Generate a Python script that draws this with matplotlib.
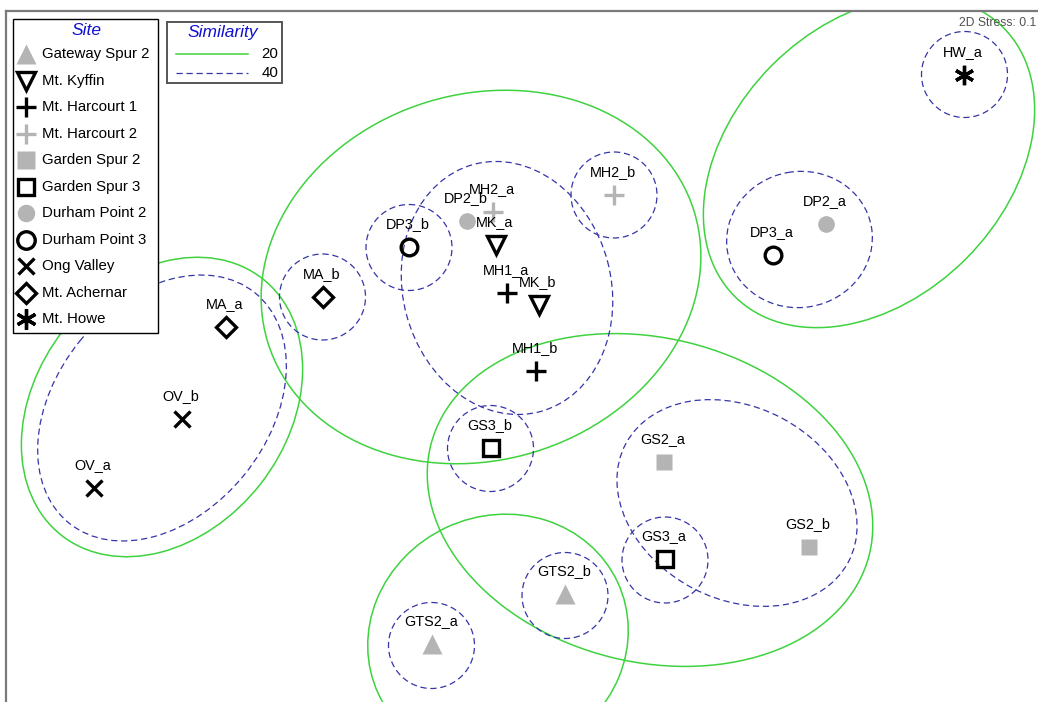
import matplotlib

matplotlib.use("Agg")
import matplotlib.pyplot as plt
from matplotlib.patches import Ellipse, Rectangle

plt.rcParams["font.family"] = ["Liberation Sans", "DejaVu Sans"]

W, H = 1038, 702
X0, Y0 = 6, 11  # frame corner

GREEN = "#3fd23f"
BLUE = "#3535a8"
GRAY = "#b4b4b4"
TITLE_BLUE = "#1010d0"

# site legend order and marker styles
SITES = [
    "Gateway Spur 2", "Mt. Kyffin", "Mt. Harcourt 1", "Mt. Harcourt 2",
    "Garden Spur 2", "Garden Spur 3", "Durham Point 2", "Durham Point 3",
    "Ong Valley", "Mt. Achernar", "Mt. Howe",
]
SITE_MARKERS = ["^", "v", "+", "+", "s", "s", "o", "o", "x", "D", (6, 2, 0)]
SITE_FILLED = [True, False, False, False, True, False, True, False, False, False, False]
SITE_COLORS = ["gray", "black", "black", "gray", "gray", "black", "gray", "black",
               "black", "black", "black"]
SITE_SIZES = [14, 13, 14, 14, 12, 11, 12, 12, 11, 10, 14]

# MDS ordination of samples (screen units)
SAMPLES = ["HW_a", "DP2_a", "DP3_a", "MH2_b", "DP2_b", "MH2_a", "MK_a", "DP3_b",
           "MH1_a", "MK_b", "MA_b", "MA_a", "MH1_b", "OV_b", "OV_a", "GS3_b",
           "GS2_a", "GS2_b", "GS3_a", "GTS2_b", "GTS2_a"]
SAMPLE_SITE = [10, 6, 7, 3, 6, 3, 1, 7, 2, 1, 9, 9, 2, 8, 8, 5, 4, 4, 5, 0, 0]
SAMPLE_X = [964, 826, 773, 614, 467, 493, 496, 409, 507, 539, 323, 226, 536, 182,
            94, 491, 664, 809, 665, 565, 432]
SAMPLE_Y = [75, 224, 255, 195, 221, 212, 245, 247, 293, 305, 297, 327, 371, 419,
            488, 448, 462, 547, 559, 594, 644]

# cluster contours at 20% similarity
G20_X = [481, 869, 162, 650, 498]
G20_Y = [277, 162, 407, 500, 638]
G20_W = [446, 380, 326, 452, 264]
G20_H = [366, 274, 250, 324, 244]
G20_ANGLE = [-17, -45, -52, 14, -25]

# cluster contours at 40% similarity
G40_X = [964.5, 614, 409, 322.5, 490.5, 665, 565, 431.5, 507, 799.5, 162, 737]
G40_Y = [74.5, 195, 247.5, 297, 448.5, 560, 595.5, 645.5, 288, 239.5, 408, 503]
G40_W = [86, 86, 86, 86, 86, 86, 86, 86, 256, 146, 296, 252]
G40_H = [86, 86, 86, 86, 86, 86, 86, 86, 208, 136, 212, 192]
G40_ANGLE = [0, 0, 0, 0, 0, 0, 0, 0, 75, -10, -51, 28]

SIMILARITY = ["20", "40"]
STRESS = 0.1


def site_style(i, scale=1.0):
    color = GRAY if SITE_COLORS[i] == "gray" else "black"
    style = dict(marker=SITE_MARKERS[i], markersize=SITE_SIZES[i] * scale, linestyle="none")
    if SITE_FILLED[i]:
        style.update(markerfacecolor=color, markeredgecolor="none")
    else:
        style.update(markerfacecolor="none", markeredgecolor=color, markeredgewidth=2.4)
    return style


fig = plt.figure(figsize=(W / 100, H / 100), dpi=100)
ax = fig.add_axes([X0 / W, 0, (W - X0) / W, (H - Y0) / H])
ax.set_xlim(X0, W)
ax.set_ylim(H, Y0)
ax.set_xticks([])
ax.set_yticks([])
for side in ("right", "bottom"):
    ax.spines[side].set_visible(False)
for side in ("top", "left"):
    ax.spines[side].set_color("#7a7a7a")
    ax.spines[side].set_linewidth(1.6)

for cx, cy, w, h, a in zip(G20_X, G20_Y, G20_W, G20_H, G20_ANGLE):
    ax.add_patch(Ellipse((cx, cy), w, h, angle=a, fill=False, edgecolor=GREEN, lw=1.1))
for cx, cy, w, h, a in zip(G40_X, G40_Y, G40_W, G40_H, G40_ANGLE):
    ax.add_patch(Ellipse((cx, cy), w, h, angle=a, fill=False, edgecolor=BLUE, lw=0.9,
                         linestyle=(0, (5, 3))))

for name, s, x, y in zip(SAMPLES, SAMPLE_SITE, SAMPLE_X, SAMPLE_Y):
    ax.plot([x], [y], zorder=4, **site_style(s))
    ax.text(x - 1, y - 23, name, ha="center", va="center", fontsize=10.4, zorder=5)

ax.text(1036, 23, f"2D Stress: {STRESS}", ha="right", va="center", fontsize=8.7,
        color="#505050")

# site legend
ax.add_patch(Rectangle((13, 19), 145, 314, facecolor="white", edgecolor="black",
                       lw=1.0, zorder=6))
ax.text(87, 30, "Site", ha="center", va="center", fontsize=12.5, style="italic",
        color=TITLE_BLUE, zorder=7)
for i, label in enumerate(SITES):
    ly = 54 + i * 26.5
    ax.plot([26], [ly], zorder=7, **site_style(i, 1.05))
    ax.text(42, ly, label, ha="left", va="center", fontsize=10.8, zorder=7)

# similarity legend
ax.add_patch(Rectangle((167, 22), 115, 61, facecolor="white", edgecolor="#555555",
                       lw=1.4, zorder=6))
ax.text(223, 32, "Similarity", ha="center", va="center", fontsize=12.5, style="italic",
        color=TITLE_BLUE, zorder=7)
ax.plot([176, 248], [54, 54], color=GREEN, lw=1.1, zorder=7)
ax.plot([176, 248], [73, 73], color=BLUE, lw=0.9, linestyle=(0, (5, 3)), zorder=7)
ax.text(278, 54, SIMILARITY[0], ha="right", va="center", fontsize=10.8, zorder=7)
ax.text(278, 73, SIMILARITY[1], ha="right", va="center", fontsize=10.8, zorder=7)

fig.savefig("out.png", dpi=100)
plt.close(fig)
